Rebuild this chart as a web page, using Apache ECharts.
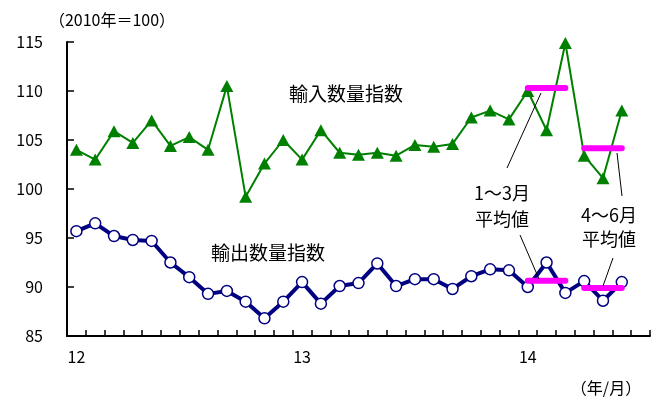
<!DOCTYPE html>
<html>
<head>
<meta charset="utf-8">
<script src="https://cdn.jsdelivr.net/npm/echarts@6/dist/echarts.min.js"></script>
<style>
  html, body { margin: 0; padding: 0; background: #ffffff; }
  #chart { width: 659px; height: 401px; }
</style>
</head>
<body>
<div id="chart"></div>
<script>
// Monthly categories, Jan 2012 – Jul 2014 (the last band is left empty)
const months = [
  '2012/1','2012/2','2012/3','2012/4','2012/5','2012/6','2012/7','2012/8','2012/9','2012/10','2012/11','2012/12',
  '2013/1','2013/2','2013/3','2013/4','2013/5','2013/6','2013/7','2013/8','2013/9','2013/10','2013/11','2013/12',
  '2014/1','2014/2','2014/3','2014/4','2014/5','2014/6','2014/7'
];

// Import volume index (2010 = 100)
const importIndex = [
  104.0, 103.0, 105.9, 104.7, 107.0, 104.4, 105.3, 104.0, 110.5, 99.2, 102.6, 105.0,
  103.0, 106.0, 103.7, 103.5, 103.7, 103.4, 104.5, 104.3, 104.6, 107.3, 108.0, 107.1,
  110.0, 106.0, 114.9, 103.4, 101.1, 108.0
];

// Export volume index (2010 = 100)
const exportIndex = [
  95.7, 96.5, 95.2, 94.8, 94.7, 92.5, 91.0, 89.3, 89.6, 88.5, 86.8, 88.5,
  90.5, 88.3, 90.1, 90.4, 92.4, 90.1, 90.8, 90.8, 89.8, 91.1, 91.8, 91.7,
  90.0, 92.5, 89.4, 90.6, 88.6, 90.5
];

// Quarters whose averages are drawn as bars (start/end category indices)
const quarterRanges = [[24, 26], [27, 29]];

const yMin = 85, yMax = 115, yStep = 5;

function mean(arr, a, b) {
  let s = 0;
  for (let i = a; i <= b; i++) s += arr[i];
  return s / (b - a + 1);
}

// One data array per quarter so the average bars stay separate
function splitQuarters(arr) {
  return quarterRanges.map(([a, b]) => {
    const m = mean(arr, a, b);
    return months.map((_, i) => (i >= a && i <= b) ? +m.toFixed(2) : null);
  });
}

const FONT = '"Noto Sans CJK JP", "Noto Sans", sans-serif';
const AVG_COLOR = '#ff00ff';

const chart = echarts.init(document.getElementById('chart'), null, { renderer: 'canvas' });

const avgSeries = [];
[importIndex, exportIndex].forEach(arr => {
  splitQuarters(arr).forEach(d => {
    avgSeries.push({
      type: 'line',
      data: d,
      symbol: 'none',
      z: 5,
      silent: true,
      lineStyle: { color: AVG_COLOR, width: 6, cap: 'round' }
    });
  });
});

const leader = (x1, y1, x2, y2) => ({
  type: 'line',
  shape: { x1, y1, x2, y2 },
  style: { stroke: '#000000', lineWidth: 1 },
  z: 10
});
const label = (text, x, y, size) => ({
  type: 'text',
  x, y,
  style: {
    text, font: `${size}px ${FONT}`, fill: '#000000',
    textAlign: 'center', textVerticalAlign: 'middle'
  },
  z: 10
});

chart.setOption({
  animation: false,
  backgroundColor: '#ffffff',
  grid: { left: 67, right: 9, top: 42, bottom: 65, containLabel: false },
  xAxis: {
    type: 'category',
    data: months,
    boundaryGap: true,
    axisLine: { show: true, lineStyle: { color: '#000000', width: 2 } },
    axisTick: {
      show: true, inside: true, length: 6, interval: 0, alignWithLabel: false,
      lineStyle: { color: '#000000', width: 1.5 }
    },
    axisLabel: {
      interval: 0,
      margin: 13,
      fontFamily: FONT,
      fontSize: 16,
      color: '#000000',
      formatter: v => {
        const [y, m] = v.split('/');
        return m === '1' ? y.slice(2) : '';
      }
    },
    splitLine: { show: false }
  },
  yAxis: {
    type: 'value',
    min: yMin, max: yMax, interval: yStep,
    axisLine: { show: true, lineStyle: { color: '#000000', width: 2 } },
    axisTick: { show: true, inside: true, length: 7, lineStyle: { color: '#000000', width: 1.5 } },
    axisLabel: { margin: 24, fontFamily: FONT, fontSize: 16, color: '#000000' },
    splitLine: { show: false }
  },
  series: [
    {
      name: '輸入数量指数',
      type: 'line',
      data: importIndex,
      symbol: 'triangle',
      symbolSize: [13, 12],
      z: 3,
      lineStyle: { color: '#008000', width: 2 },
      itemStyle: { color: '#008000', borderWidth: 0 }
    },
    {
      name: '輸出数量指数',
      type: 'line',
      data: exportIndex,
      symbol: 'circle',
      symbolSize: 11,
      z: 3,
      lineStyle: { color: '#000080', width: 4 },
      itemStyle: { color: '#ffffff', borderColor: '#000080', borderWidth: 1.5 }
    },
    ...avgSeries
  ],
  graphic: [
    label('（2010年＝100）', 112, 20, 16),
    label('（年/月）', 606, 388, 16),
    label('輸入数量指数', 346, 94, 19),
    label('輸出数量指数', 268, 253, 19),
    label('1～3月', 502, 193, 18),
    label('平均値', 502, 219, 18),
    label('4～6月', 609, 215, 18),
    label('平均値', 609, 239, 18),
    leader(541, 93, 507, 168),
    leader(617, 153, 622, 196),
    leader(520, 235, 539, 279),
    leader(613, 258, 603, 286)
  ]
});
</script>
</body>
</html>
